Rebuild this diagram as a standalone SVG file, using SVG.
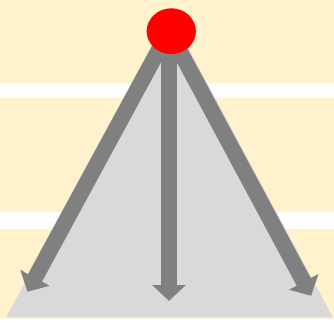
<svg xmlns="http://www.w3.org/2000/svg" width="334" height="331" viewBox="0 0 334 331">
  <style>
    .band { fill: #fff2cc; }
    .arrow { stroke: #808080; stroke-width: 16; fill: none; marker-end: url(#head); }
  </style>
  <defs>
    <marker id="head" markerUnits="userSpaceOnUse" viewBox="0 -20 20 40" markerWidth="20" markerHeight="40" refX="1" refY="0" orient="auto">
      <path d="M0,-17 L16,0 L0,17 Z" fill="#808080"/>
    </marker>
  </defs>
  <rect width="334" height="331" fill="#ffffff"/>
  <g id="bands">
    <rect class="band" x="0" y="0" width="334" height="83"/>
    <rect class="band" x="0" y="98" width="334" height="114"/>
    <rect class="band" x="0" y="229" width="334" height="89.5"/>
  </g>
  <g id="triangle">
    <polygon points="6,317.5 333,317.5 170,14" fill="#d9d9d9"/>
  </g>
  <g id="connectors">
    <line class="arrow" x1="169" y1="31" x2="169" y2="286"/>
    <line class="arrow" x1="169" y1="31" x2="34.6" y2="278.6"/>
    <line class="arrow" x1="169" y1="31" x2="304.1" y2="282.6"/>
  </g>
  <g id="node">
    <ellipse cx="171.3" cy="31.3" rx="24.7" ry="23" fill="#ff0000"/>
  </g>
</svg>
